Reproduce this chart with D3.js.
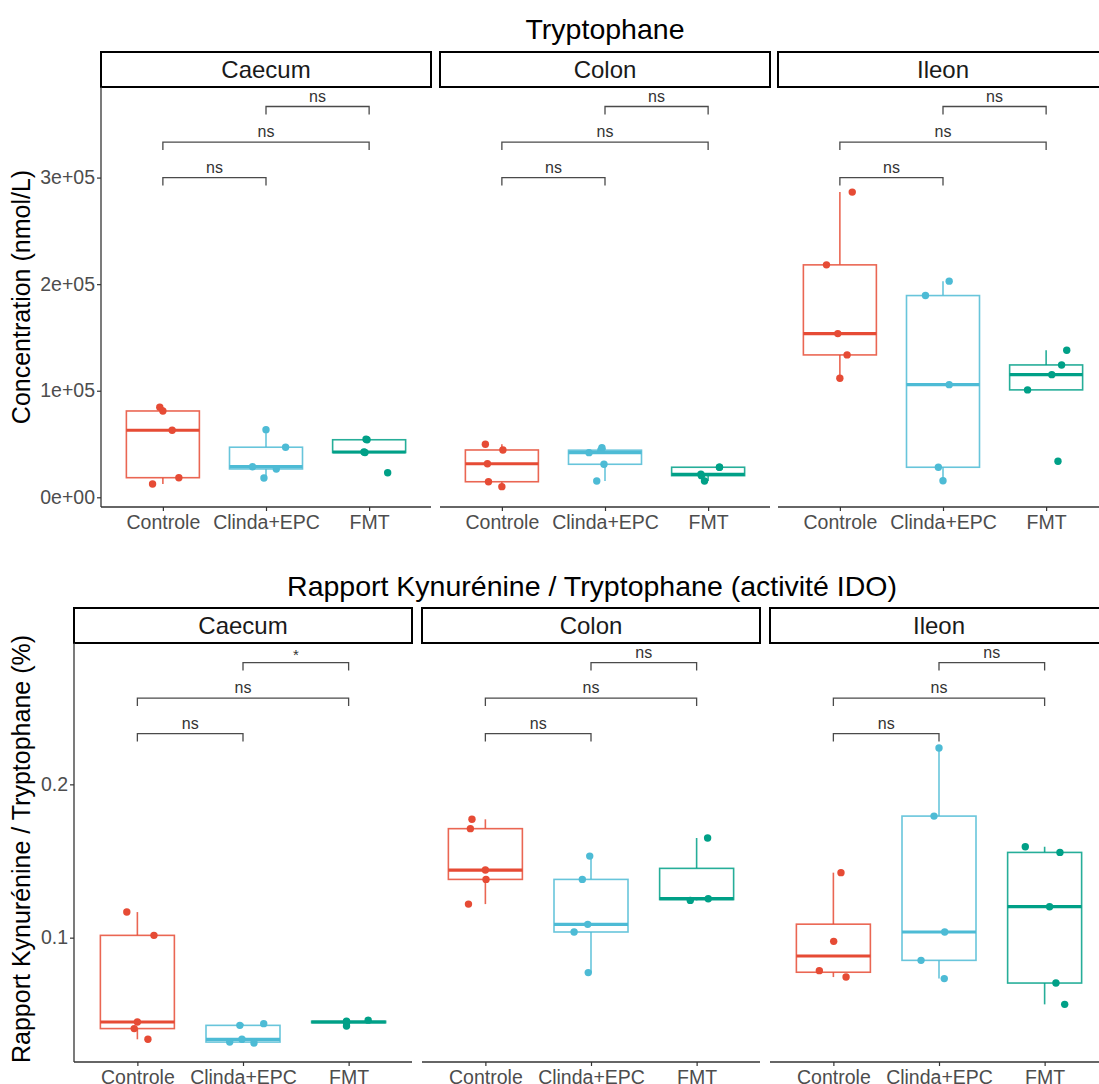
<!DOCTYPE html>
<html><head><meta charset="utf-8">
<script src="https://cdn.jsdelivr.net/npm/d3@7"></script>
<style>
body{margin:0;background:#fff}
text{font-family:"Liberation Sans",Arial,sans-serif}
</style>
</head><body>
<svg id="chart" width="1099" height="1084"></svg>
<script>
// ---------- DATA ----------
const tissues = ["Caecum", "Colon", "Ileon"];
const groups = ["Controle", "Clinda+EPC", "FMT"];
const groupColors = ["#E64B35", "#4DBBD5", "#00A087"];

// Tryptophane concentration (nmol/L), per tissue -> per group
const trpCaecum = [[84500, 81000, 62900, 18400, 12500], [63500, 47000, 28700, 26600, 18100], [54500, 54000, 42500, 42000, 23100]];
const trpColon  = [[49800, 44400, 31500, 14600, 10000], [46600, 44200, 41900, 31000, 15300], [28200, 28200, 21600, 20300, 15300]];
const trpIleon  = [[286400, 218100, 153600, 133600, 111700], [202800, 189300, 105700, 28200, 15600], [138000, 124200, 115100, 100800, 33800]];
// horizontal jitter of the points (in category units)
const trpJitCaecum = [[-0.03, 0, 0.09, 0.155, -0.10], [0, 0.19, -0.13, 0.10, -0.02], [-0.03, -0.02, -0.05, -0.04, 0.18]];
const trpJitColon  = [[-0.16, 0.01, -0.14, -0.13, 0], [-0.03, -0.04, -0.155, -0.01, -0.08], [0.11, 0.11, -0.07, -0.065, -0.035]];
const trpJitIleon  = [[0.12, -0.13, -0.02, 0.07, 0], [0.06, -0.17, 0.06, -0.045, 0], [0.2, 0.15, 0.055, -0.18, 0.115]];

// Kynurenine / Tryptophane ratio (%)
const kynCaecum = [[0.1167, 0.1015, 0.0450, 0.0407, 0.0337], [0.0439, 0.0428, 0.0337, 0.0319, 0.0313], [0.0462, 0.0455, 0.0450, 0.0445, 0.0424]];
const kynColon  = [[0.1772, 0.1711, 0.1441, 0.1380, 0.1219], [0.1532, 0.1380, 0.1087, 0.1037, 0.0772], [0.1650, 0.1254, 0.1243]];
const kynIleon  = [[0.1424, 0.0976, 0.0785, 0.0743], [0.2237, 0.1793, 0.1037, 0.0852, 0.0733], [0.1593, 0.1556, 0.1202, 0.0704, 0.0565]];
const kynJitCaecum = [[-0.10, 0.157, 0, -0.03, 0.10], [0.196, -0.03, -0.01, -0.126, 0.104], [0.185, -0.02, -0.02, -0.02, -0.02]];
const kynJitColon  = [[-0.127, -0.142, 0, 0.006, -0.16], [-0.012, -0.082, -0.031, -0.16, -0.026], [0.104, 0.11, -0.06]];
const kynJitIleon  = [[0.072, 0.003, -0.133, 0.12], [0, -0.047, 0.054, -0.17, 0.05], [-0.183, 0.145, 0.047, 0.107, 0.19]];

// comparisons (group index pairs), label heights and labels
const comparisons = [[0, 1], [0, 2], [1, 2]];
const trpBracketY = [300000, 333300, 366700];
const kynBracketY = [0.2331, 0.2563, 0.2794];
const trpLabels = [["ns", "ns", "ns"], ["ns", "ns", "ns"], ["ns", "ns", "ns"]];
const kynLabels = [["ns", "ns", "*"], ["ns", "ns", "ns"], ["ns", "ns", "ns"]];

// axis ticks
const trpTicks = [0, 100000, 200000, 300000];
const trpTickLabels = ["0e+00", "1e+05", "2e+05", "3e+05"];
const kynTicks = [0.1, 0.2];
const kynTickLabels = ["0.1", "0.2"];

// ---------- DRAWING ----------
const svg = d3.select("#chart");
const FONT = '"Liberation Sans", Arial, sans-serif';

function boxStats(vals) {
  const s = vals.slice().sort(d3.ascending);
  const q1 = d3.quantileSorted(s, 0.25), med = d3.quantileSorted(s, 0.5), q3 = d3.quantileSorted(s, 0.75);
  const iqr = q3 - q1;
  const lo = d3.min(s.filter(v => v >= q1 - 1.5 * iqr));
  const hi = d3.max(s.filter(v => v <= q3 + 1.5 * iqr));
  return {q1, med, q3, lo, hi};
}

function drawPlot(cfg) {
  const g = svg.append("g");
  g.append("text").attr("x", cfg.titleX).attr("y", cfg.titleY)
    .attr("text-anchor", "middle").attr("font-size", 28.5).attr("fill", "#000").text(cfg.title);
  g.append("text").attr("transform", `translate(${cfg.yTitleX},${cfg.yTitleY}) rotate(-90)`)
    .attr("text-anchor", "middle").attr("font-size", cfg.yTitleSize).attr("fill", "#000").text(cfg.yTitle);

  const y = d3.scaleLinear().domain(cfg.yDomain).range([cfg.bottom, cfg.top]);
  const boxHalf = cfg.boxHalf;

  tissues.forEach((tissue, ti) => {
    const x0 = cfg.panelX[ti], x1 = x0 + cfg.panelW;
    const x = d3.scalePoint().domain(groups).range([x0, x1]).padding(0.6);
    const unit = x.step();
    const pg = g.append("g");

    pg.append("rect").attr("x", x0).attr("y", cfg.stripTop).attr("width", cfg.panelW)
      .attr("height", cfg.top - cfg.stripTop).attr("fill", "#fff").attr("stroke", "#000").attr("stroke-width", 2);
    pg.append("text").attr("x", (x0 + x1) / 2).attr("y", (cfg.stripTop + cfg.top) / 2 + 8.5)
      .attr("text-anchor", "middle").attr("font-size", 24).attr("fill", "#1a1a1a").text(tissue);

    const yAxis = d3.axisLeft(y).tickValues(cfg.ticks).tickFormat((d, i) => ti === 0 ? cfg.tickLabels[i] : "")
      .tickSize(ti === 0 ? 4 : 0).tickSizeOuter(0);
    const ya = pg.append("g").attr("transform", `translate(${x0},0)`).call(yAxis);
    ya.select(".domain").attr("stroke", "#333").attr("stroke-width", 1.3).attr("d", `M0,${cfg.top}V${cfg.bottom}`);
    ya.selectAll(".tick line").attr("stroke", "#333").attr("stroke-width", 1.2);
    ya.selectAll(".tick text").attr("font-family", FONT).attr("font-size", 19.5).attr("fill", "#4d4d4d").attr("x", -6);
    if (ti !== 0) ya.select(".domain").remove();

    const xAxis = d3.axisBottom(x).tickSize(4).tickSizeOuter(0);
    const xa = pg.append("g").attr("transform", `translate(0,${cfg.bottom})`).call(xAxis);
    xa.select(".domain").attr("stroke", "#333").attr("stroke-width", 1.3).attr("d", `M${x0},0H${x1}`);
    xa.selectAll(".tick line").attr("stroke", "#333").attr("stroke-width", 1.2);
    xa.selectAll(".tick text").attr("font-family", FONT).attr("font-size", 19.5).attr("fill", "#4d4d4d").attr("dy", "0.95em").attr("y", 3);

    groups.forEach((grp, gi) => {
      const vals = cfg.values[ti][gi];
      const jit = cfg.jitter[ti][gi];
      const cx = x(grp), col = groupColors[gi];
      const st = boxStats(vals);
      const bg = pg.append("g");
      bg.append("line").attr("x1", cx).attr("x2", cx).attr("y1", y(st.q3)).attr("y2", y(st.hi))
        .attr("stroke", col).attr("stroke-width", 1.6).attr("stroke-opacity", 0.85);
      bg.append("line").attr("x1", cx).attr("x2", cx).attr("y1", y(st.q1)).attr("y2", y(st.lo))
        .attr("stroke", col).attr("stroke-width", 1.6).attr("stroke-opacity", 0.85);
      bg.append("rect").attr("x", cx - boxHalf).attr("width", boxHalf * 2)
        .attr("y", y(st.q3)).attr("height", Math.max(0.5, y(st.q1) - y(st.q3)))
        .attr("fill", "#fff").attr("stroke", col).attr("stroke-width", 1.6).attr("stroke-opacity", 0.85);
      bg.append("line").attr("x1", cx - boxHalf).attr("x2", cx + boxHalf).attr("y1", y(st.med)).attr("y2", y(st.med))
        .attr("stroke", col).attr("stroke-width", 3.2);
      bg.selectAll("circle").data(vals).join("circle")
        .attr("cx", (d, i) => cx + jit[i] * unit).attr("cy", d => y(d)).attr("r", 3.7).attr("fill", col);
    });

    comparisons.forEach((pair, ci) => {
      const xa1 = x(groups[pair[0]]), xa2 = x(groups[pair[1]]);
      const by = y(cfg.bracketY[ci]);
      pg.append("path").attr("d", `M${xa1},${by + 8}V${by}H${xa2}V${by + 8}`)
        .attr("fill", "none").attr("stroke", "#4a4a4a").attr("stroke-width", 1.3);
      const lab = cfg.labels[ti][ci];
      pg.append("text").attr("x", (xa1 + xa2) / 2).attr("y", lab === "*" ? by - 3 : by - 5)
        .attr("text-anchor", "middle").attr("font-size", lab === "*" ? 15 : 16).attr("fill", "#333").text(lab);
    });
  });
}

drawPlot({
  title: "Tryptophane", titleX: 605, titleY: 39,
  yTitle: "Concentration (nmol/L)", yTitleX: 30, yTitleY: 297, yTitleSize: 25,
  yDomain: [-9100, 385000], top: 87, bottom: 507, stripTop: 52,
  panelX: [101, 440, 778], panelW: 330, boxHalf: 36.5,
  ticks: trpTicks, tickLabels: trpTickLabels,
  values: [trpCaecum, trpColon, trpIleon],
  jitter: [trpJitCaecum, trpJitColon, trpJitIleon],
  bracketY: trpBracketY, labels: trpLabels
});

drawPlot({
  title: "Rapport Kynurénine / Tryptophane (activité IDO)", titleX: 592, titleY: 596,
  yTitle: "Rapport Kynurénine / Tryptophane (%)", yTitleX: 30, yTitleY: 849, yTitleSize: 25,
  yDomain: [0.0189, 0.2922], top: 643, bottom: 1062, stripTop: 608,
  panelX: [74, 422, 770], panelW: 338, boxHalf: 37,
  ticks: kynTicks, tickLabels: kynTickLabels,
  values: [kynCaecum, kynColon, kynIleon],
  jitter: [kynJitCaecum, kynJitColon, kynJitIleon],
  bracketY: kynBracketY, labels: kynLabels
});
</script>
</body></html>
